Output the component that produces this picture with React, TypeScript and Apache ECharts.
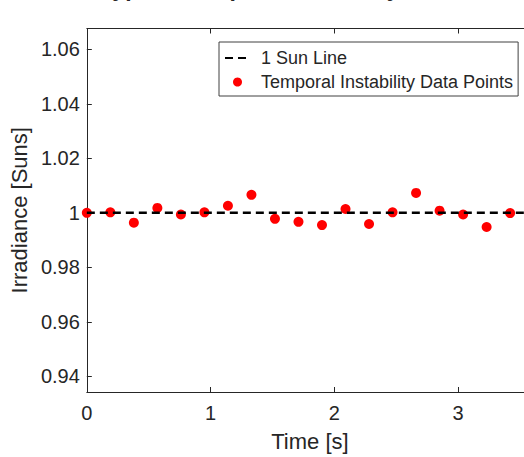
import React, { useEffect, useRef } from "react";
import * as echarts from "echarts";

const titleText = "Typical Temporal Instability Over Time";
const xAxisName = "Time [s]";
const yAxisName = "Irradiance [Suns]";
const lineName = "1 Sun Line";
const pointsName = "Temporal Instability Data Points";

const timeValues = [0, 0.19, 0.38, 0.57, 0.76, 0.95, 1.14, 1.33, 1.52, 1.71, 1.9, 2.09, 2.28, 2.47, 2.66, 2.85, 3.04, 3.23, 3.42];
const irradianceValues = [1.0, 1.0002, 0.9964, 1.0018, 0.9994, 1.0002, 1.0026, 1.0066, 0.9978, 0.9967, 0.9955, 1.0014, 0.9959, 1.0002, 1.0073, 1.0008, 0.9994, 0.9948, 0.9999];
const sunLineX = [0, 3.6];
const sunLineY = [1, 1];

const X_MIN = 0;
const X_MAX = 3.532;
const Y_MIN = 0.9343;
const Y_MAX = 1.0676;

const FONT = "'Liberation Sans', Arial, Helvetica, sans-serif";
const INK = "#262626";

export default function App() {
  const ref = useRef<HTMLDivElement>(null);
  useEffect(() => {
    if (!ref.current) return;
    const chart = echarts.init(ref.current, undefined, { renderer: "svg" });
    const axisCommon = {
      axisLine: { show: true, onZero: false, lineStyle: { color: INK, width: 1 } },
      axisTick: { show: true, inside: true, length: 5, lineStyle: { color: INK, width: 1 } },
      splitLine: { show: false },
    };
    chart.setOption({
      animation: false,
      backgroundColor: "#ffffff",
      textStyle: { fontFamily: FONT },
      graphic: [
        {
          type: "text",
          x: 309,
          y: -12,
          style: {
            text: titleText,
            fontFamily: FONT,
            fontSize: 23,
            fontWeight: "bold",
            fill: INK,
            align: "center",
            verticalAlign: "middle",
          },
        },
      ],
      grid: { left: 86, top: 28.5, right: 0, bottom: 62, containLabel: false },
      legend: {
        orient: "vertical",
        left: 219,
        top: 42,
        padding: [7, 5, 5, 5],
        itemGap: 6,
        itemWidth: 25,
        itemHeight: 9,
        borderColor: "#404040",
        borderWidth: 1,
        backgroundColor: "#ffffff",
        textStyle: { fontFamily: FONT, fontSize: 18, color: INK, lineHeight: 18, padding: [0, 0, 0, 6] },
        data: [
          { name: lineName, itemStyle: { opacity: 0 } },
          { name: pointsName },
        ],
      },
      xAxis: [
        {
          type: "value",
          min: X_MIN,
          max: X_MAX,
          interval: 1,
          position: "bottom",
          ...axisCommon,
          axisLabel: { color: INK, fontSize: 20, fontFamily: FONT, margin: 11, showMaxLabel: false },
          name: xAxisName,
          nameLocation: "middle",
          nameGap: 38,
          nameTextStyle: { color: INK, fontSize: 22, fontFamily: FONT, padding: [0, 0, 0, 9] },
        },
        {
          type: "value",
          min: X_MIN,
          max: X_MAX,
          interval: 1,
          position: "top",
          ...axisCommon,
          axisLabel: { show: false },
        },
      ],
      yAxis: [
        {
          type: "value",
          min: Y_MIN,
          max: Y_MAX,
          splitNumber: 7,
          position: "left",
          ...axisCommon,
          axisLabel: { color: INK, fontSize: 20, fontFamily: FONT, margin: 7, showMinLabel: false, showMaxLabel: false },
          name: yAxisName,
          nameLocation: "middle",
          nameGap: 53,
          nameTextStyle: { color: INK, fontSize: 22, fontFamily: FONT },
        },
      ],
      series: [
        {
          name: lineName,
          type: "line",
          xAxisIndex: 0,
          yAxisIndex: 0,
          data: sunLineX.map((x, i) => [x, sunLineY[i]]),
          symbol: "none",
          lineStyle: { color: "#000000", width: 2.5, type: [8, 5] },
          itemStyle: { color: "#000000" },
        },
        {
          name: pointsName,
          type: "scatter",
          xAxisIndex: 0,
          yAxisIndex: 0,
          data: timeValues.map((x, i) => [x, irradianceValues[i]]),
          symbol: "circle",
          symbolSize: 10,
          itemStyle: { color: "#ff0000", opacity: 1 },
        },
      ],
    });
    return () => chart.dispose();
  }, []);
  return <div ref={ref} style={{ position: "fixed", left: 0, top: 0, width: 524, height: 457 }} />;
}
